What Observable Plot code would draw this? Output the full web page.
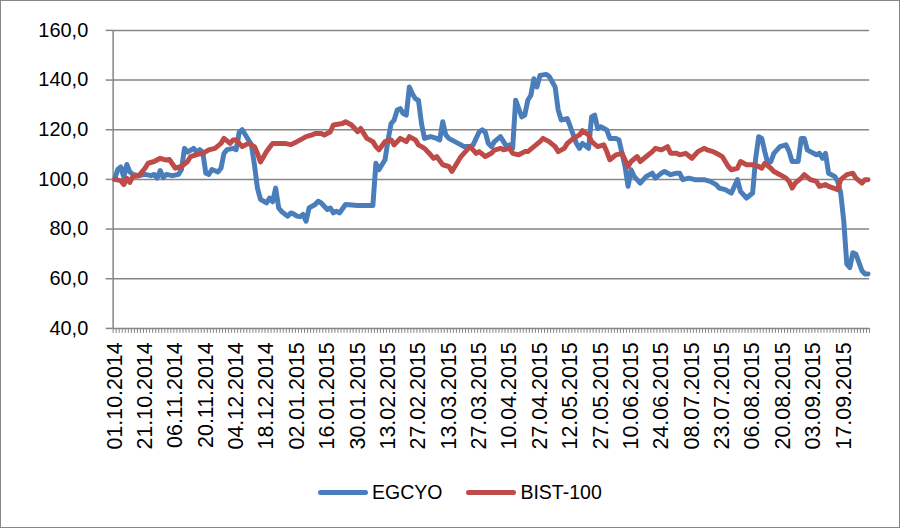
<!DOCTYPE html>
<html>
<head>
<meta charset="utf-8">
<script src="https://cdn.jsdelivr.net/npm/d3@7"></script>
<script src="https://cdn.jsdelivr.net/npm/@observablehq/plot@0.6"></script>
<style>
  html, body { margin: 0; padding: 0; background: #fff; }
  #frame { position: absolute; left: 0; top: 0; width: 898px; height: 526px; border: 1px solid #868686; background: #fff; }
  #chart { position: absolute; left: -1px; top: -1px; }
  #legend { position: absolute; left: 317px; top: 480px; display: flex; align-items: center; font-family: "Liberation Sans", Arial, sans-serif; font-size: 19.5px; color: #000; }
  .item { display: flex; align-items: center; }
  .sw { width: 50px; height: 5px; border-radius: 3px; margin-right: 4px; }
</style>
</head>
<body>
<div id="frame">
  <div id="chart"></div>
  <div id="legend"></div>
</div>
<script>
// ---- data ----
const seriesNames = ["EGCYO", "BIST-100"];
const seriesColors = ["#4a7ebb", "#be4b48"];
const nCategories = 249;
const tickLabels = ["01.10.2014","21.10.2014","06.11.2014","20.11.2014","04.12.2014","18.12.2014","02.01.2015","16.01.2015","30.01.2015","13.02.2015","27.02.2015","13.03.2015","27.03.2015","10.04.2015","27.04.2015","12.05.2015","27.05.2015","10.06.2015","24.06.2015","08.07.2015","23.07.2015","06.08.2015","20.08.2015","03.09.2015","17.09.2015"];
const tickIndex = [0,10,20,30,40,50,60,70,80,90,100,110,120,130,140,150,160,170,180,190,200,210,220,230,240];
const yTicks = [40, 60, 80, 100, 120, 140, 160];

const egcyoIdx = [0,1,2,3,4,5,6,8,10,12,13,14,15,16,17,19,21,22,23,24,26,27,28,29,30,31,32,34,35,36,37,39,40,41,42,43,45,46,47,48,50,51,52,53,54,55,57,58,59,60,61,62,63,64,66,67,68,70,71,72,73,74,76,80,85,86,87,88,89,90,91,92,93,94,95,96,97,98,99,100,101,102,104,106,107,108,109,110,112,114,115,117,118,120,121,122,123,124,125,127,128,129,130,131,132,133,134,135,136,137,138,139,140,142,143,145,146,147,149,150,152,153,154,156,157,158,159,160,162,163,165,166,168,169,170,171,173,175,177,178,180,181,183,185,186,187,189,191,193,194,196,198,199,201,203,205,206,208,210,211,212,213,214,215,216,217,219,221,222,223,225,226,227,228,229,231,232,233,234,235,237,238,239,240,241,242,243,244,246,247,248];
const egcyoVal = [100,104,105,101,106,103,102,101.5,102,101.5,102,100.5,103.6,100.7,102,101.5,102,104,112.5,111,112.5,111,112,111,102.5,102,104,103,104.5,110.5,112,112.5,112,119,120,118,114,106,96.5,92,90.5,92.5,91,96.5,88.5,87,85.2,86.5,86,85.2,85,85.9,83.2,88.5,89.9,91.2,90.5,87.9,88.5,86.5,87.2,86.5,89.9,89.5,89.5,106.5,103.9,105.9,107.9,115.9,122.5,123.9,127.9,128.5,126.5,125.9,137.2,134.5,132.5,131.9,122.5,116.5,117.2,116.5,115.9,123.2,117.9,116.5,115.2,113.9,113.2,113.2,113.9,119.2,120,119,114.5,113.2,115.2,117.2,115.2,113.2,113.9,112.5,131.9,128.5,125.2,125.9,131.9,133.9,140.5,137.2,141.9,142.3,141.5,137.2,127.9,123.9,124.5,121.2,114.5,112.5,114.5,112.5,125.2,125.9,120.5,121.2,119.9,116.5,116.5,115.9,105.2,97.2,103.9,101.2,98.5,101.2,102.5,100.5,102.5,103.2,101.9,102.5,102.5,99.9,100.5,99.9,99.9,99.9,99.2,97.9,96.5,95.9,94.5,99.9,95.2,92.5,94.5,108.5,117.2,116.5,111.2,106.5,107.2,110.5,113.2,113.9,111.2,107.2,107.2,116.5,116.5,111.9,111.2,109.9,110.5,108.5,110.5,102.5,101.2,99.2,94.5,83.2,65.9,64.5,70.5,69.9,63.2,61.9,61.9];

const bistIdx = [0,2,3,4,5,6,8,10,11,13,15,17,18,20,22,24,25,27,29,31,33,35,36,38,39,40,41,42,44,46,47,48,50,52,54,56,58,60,62,63,65,66,68,69,71,72,75,76,78,80,81,83,85,86,87,89,91,92,94,96,97,99,100,102,104,105,106,108,110,111,113,114,116,117,119,120,122,124,125,127,128,130,131,133,135,136,138,140,141,143,145,146,148,149,151,153,154,156,157,159,161,162,163,165,167,169,170,172,173,175,177,178,180,182,183,185,186,188,190,192,194,195,197,199,200,202,203,205,206,208,210,212,213,214,216,217,219,221,222,223,224,226,227,229,231,232,234,235,238,239,241,243,244,246,247,248];
const bistVal = [100,99.5,97.9,100.5,98.8,101.2,101.5,104.5,106.5,107.2,108.5,107.8,108,104.5,105.2,107.2,109.2,110,110.5,111.9,112.5,114.5,116.5,114.5,115.9,116,114.5,113.2,114.5,113.2,110.5,107,111.2,114.5,114.5,114.5,114,115.2,116.5,117.2,117.9,118.5,118.5,117.9,119.2,121.9,122.5,123.2,121.9,119.2,120.5,116.5,115.2,113.2,111.9,115.2,115.9,113.9,116.5,115.2,117.2,115.9,113.9,112.5,109.9,108.5,109.2,105.9,105.2,103.2,107.2,109.2,111.9,113.2,110.5,111.2,109.2,110.5,111.8,112.5,111.9,112.5,110.5,109.9,111.2,111.2,113.2,115.2,116.5,115.2,113.2,111.2,112.5,114.5,116.5,117.9,119.6,117.9,115.2,113.2,113.9,111.2,107.9,109.9,110.5,105.2,107.2,109.2,107.2,109.2,111.2,112.5,111.9,113.2,110.5,110.5,109.9,110.5,108.5,111.2,112.5,111.9,111.2,109.9,109.2,105.2,103.9,104.5,107.2,105.9,105.9,105.2,104.5,106.5,104.5,103.2,101.9,100.5,99.2,96.5,98.5,100.5,101.9,99.9,99.2,97.2,97.9,97.2,95.9,99.9,101.9,102.5,100.5,98.5,99.9,99.9];

// ---- build ----
const egcyo = egcyoIdx.map((i, k) => ({i, v: egcyoVal[k]}));
const bist = bistIdx.map((i, k) => ({i, v: bistVal[k]}));
const boundaries = d3.range(nCategories + 1).map(k => k - 0.5);
const gray = "#868686";
const font = '"Liberation Sans", Arial, sans-serif';

const chart = Plot.plot({
  width: 902,
  height: 470,
  marginLeft: 113,
  marginRight: 30,
  marginTop: 30,
  marginBottom: 141,
  style: {fontFamily: font, fontSize: "20px", color: "#000", background: "transparent"},
  x: {type: "linear", domain: [-0.5, nCategories - 0.5], label: null},
  y: {domain: [40, 160], label: null},
  marks: [
    Plot.gridY(yTicks, {stroke: gray, strokeOpacity: 1, strokeWidth: 1.5}),
    Plot.ruleX([-0.5], {stroke: gray, strokeWidth: 1.5}),
    Plot.axisY({ticks: yTicks, tickSize: 7, tickPadding: 18, stroke: gray, strokeWidth: 1.5, strokeOpacity: 1, tickFormat: d => d.toFixed(1).replace(".", ","), fill: "#000", fontSize: 20, label: null}),
    Plot.axisX({ticks: boundaries, tickSize: 5, tickFormat: () => "", stroke: gray, strokeWidth: 1, strokeOpacity: 1, label: null}),
    Plot.axisX({ticks: tickIndex, tickSize: 0, tickPadding: 14, tickRotate: -90, tickFormat: i => tickLabels[tickIndex.indexOf(i)], fill: "#000", fontSize: 21.5, label: null}),
    Plot.lineY(egcyo, {x: "i", y: "v", stroke: seriesColors[0], strokeWidth: 5, strokeLinejoin: "round", strokeLinecap: "round"}),
    Plot.lineY(bist, {x: "i", y: "v", stroke: seriesColors[1], strokeWidth: 5, strokeLinejoin: "round", strokeLinecap: "round"})
  ]
});
document.getElementById("chart").appendChild(chart);

const legend = document.getElementById("legend");
seriesNames.forEach((name, k) => {
  const item = document.createElement("div");
  item.className = "item";
  if (k > 0) item.style.marginLeft = "24px";
  const sw = document.createElement("div");
  sw.className = "sw";
  sw.style.background = seriesColors[k];
  const t = document.createElement("span");
  t.textContent = name;
  item.appendChild(sw);
  item.appendChild(t);
  legend.appendChild(item);
});
</script>
</body>
</html>
